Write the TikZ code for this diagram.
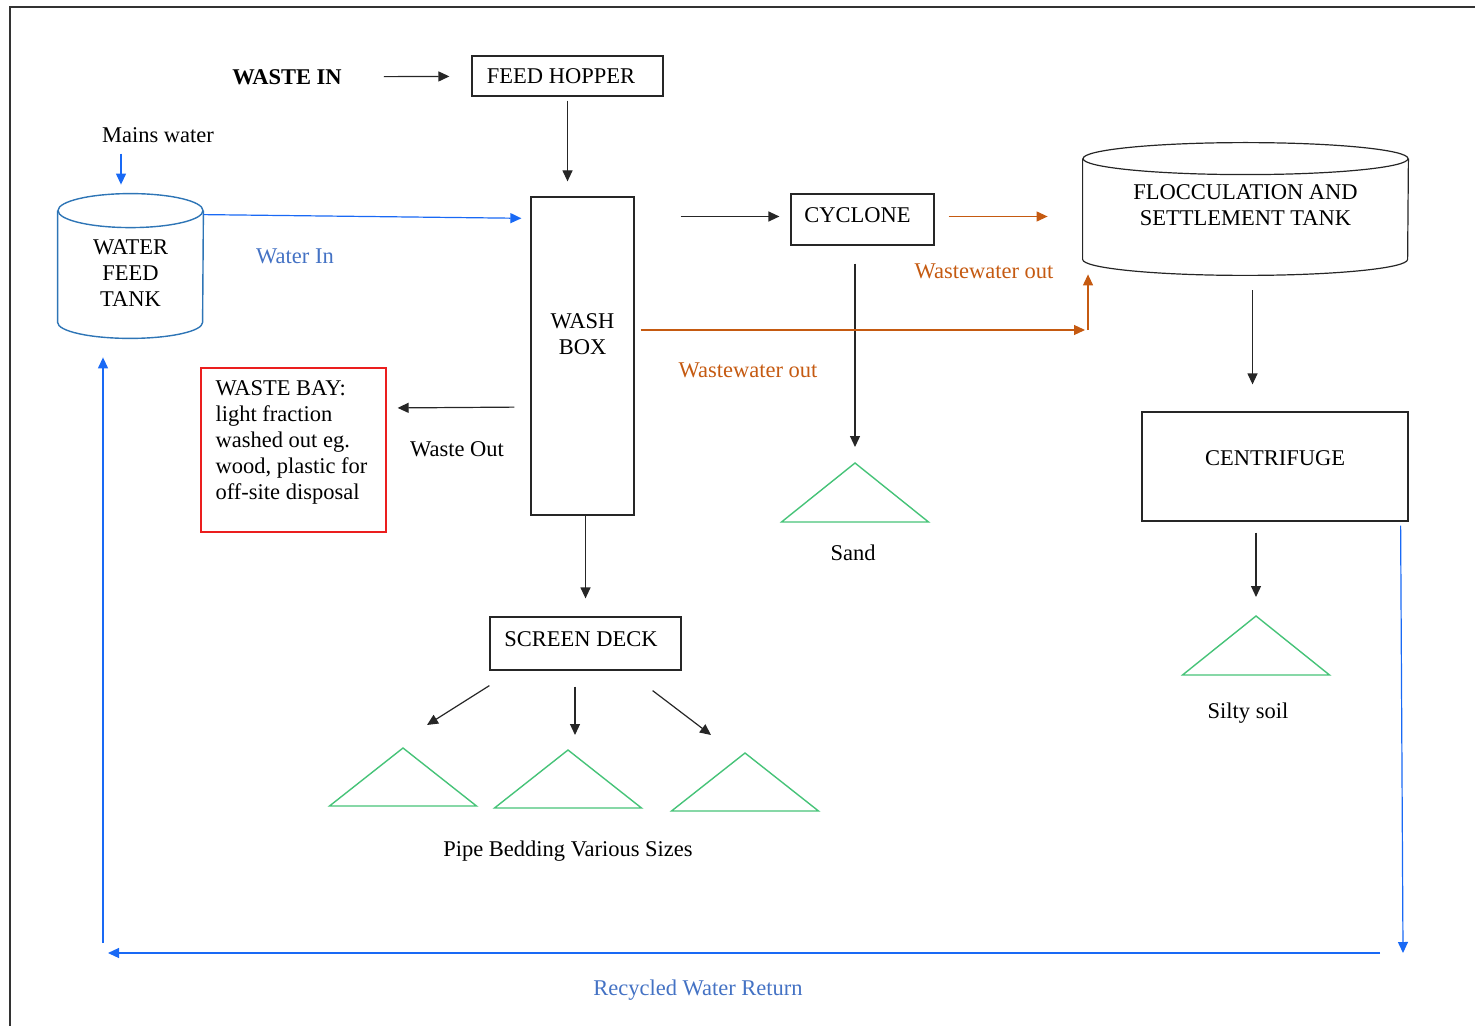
\documentclass[tikz,border=0pt]{standalone}
\usepackage{fontspec}
\setmainfont{Liberation Serif}
\usetikzlibrary{arrows.meta,positioning,calc}
\definecolor{tankblue}{RGB}{46,117,182}
\definecolor{flowblue}{RGB}{25,105,245}
\definecolor{labelblue}{RGB}{68,114,196}
\definecolor{wasteorange}{RGB}{197,90,17}
\definecolor{heapgreen}{RGB}{70,195,120}
\definecolor{bayred}{RGB}{235,30,30}

\begin{document}
\begin{tikzpicture}[x=0.5pt,y=-0.5pt,
        font=\fontsize{11.25}{13}\selectfont,
        box/.style={rectangle, draw=black!85, line width=0.6pt, inner sep=0pt, align=center},
        body/.style={rectangle, inner sep=0pt, align=center},
        arr/.style={-{Triangle[length=5.5pt,width=5pt]}, line width=0.6pt, color=black!85},
        warr/.style={-{Triangle[length=5.5pt,width=5pt]}, line width=0.6pt, color=wasteorange},
        rarr/.style={-{Triangle[length=5.5pt,width=5pt]}, line width=0.6pt, color=flowblue},
        heap/.style={draw=heapgreen, line width=0.7pt},
        tank/.style={draw=tankblue, line width=0.7pt}]

    \useasboundingbox (0,0) rectangle (1475,1026);
    \draw [line width=0.8pt, black!80] (10,1026) -- (10,7) -- (1475,7);

    % process boxes
    \node [font=\bfseries\fontsize{11.25}{13}\selectfont] (wastein) at (287,77) {WASTE IN};
    \node [box, minimum width=95.5pt, minimum height=20pt,
        label={[xshift=-3.25pt]center:FEED HOPPER}] (hopper) at (567.5,76) {};
    \node [box, minimum width=51.5pt, minimum height=159pt,
        label={[align=center,yshift=11pt]center:{WASH\\BOX}}] (wash) at (582.5,356) {};
    \node [box, minimum width=71.5pt, minimum height=25.5pt,
        label={[xshift=-2.5pt,yshift=2pt]center:CYCLONE}] (cyclone) at (862.5,219.5) {};
    \node [box, minimum width=95.5pt, minimum height=26.5pt,
        label={[xshift=-2.25pt,yshift=2pt]center:SCREEN DECK}] (screen) at (585.5,643.5) {};
    \node [box, minimum width=133pt, minimum height=54.5pt,
        label={[yshift=4pt]center:CENTRIFUGE}] (cent) at (1275,466.5) {};
    \node [box, draw=bayred, minimum width=92.5pt, minimum height=82pt,
        label={[align=left,xshift=-1pt,yshift=4pt]center:{WASTE BAY:\\light fraction\\washed out eg.\\wood, plastic for\\off-site disposal}}] (bay) at (293.5,450) {};

    % tanks
    \node [body, minimum width=72.5pt, minimum height=55.5pt,
        label={[align=center,yshift=-3.5pt]center:{WATER\\FEED\\TANK}}] (tank) at (130.5,266.5) {};
    \draw [tank] (tank.north) ellipse [x radius=36.25pt, y radius=8.5pt];
    \draw [tank] (tank.north west) -- (tank.south west)
        arc [start angle=180, end angle=360, x radius=36.25pt, y radius=8pt] -- (tank.north east);

    \node [body, minimum width=162.5pt, minimum height=50pt,
        label={[align=center,yshift=2pt]center:{FLOCCULATION AND\\SETTLEMENT TANK}}] (floc) at (1245.5,209) {};
    \draw [black!85, line width=0.6pt] (floc.north) ellipse [x radius=81.25pt, y radius=8pt];
    \draw [black!85, line width=0.6pt] (floc.north west) -- (floc.south west)
        arc [start angle=180, end angle=360, x radius=81.25pt, y radius=8pt] -- (floc.north east);

    % stockpiles
    \coordinate (sandpile) at (855,463);
    \coordinate (siltpile) at (1256,616);
    \coordinate (pile1) at (403,748);
    \coordinate (pile2) at (568,750);
    \coordinate (pile3) at (745,753);
    \draw [heap] (sandpile) -- ++(-73.5,59) -- ++(147,0) -- cycle;
    \draw [heap] (siltpile) -- ++(-73.5,59) -- ++(147,0) -- cycle;
    \draw [heap] (pile1) -- ++(-73.5,58) -- ++(147,0) -- cycle;
    \draw [heap] (pile2) -- ++(-73.5,58) -- ++(147,0) -- cycle;
    \draw [heap] (pile3) -- ++(-73.5,58) -- ++(147,0) -- cycle;

    % texts
    \node (mains) at (158,135) {Mains water};
    \node [text=labelblue] (watertxt) at (295,256) {Water In};
    \node (wasteout) at (457,449) {Waste Out};
    \node [text=wasteorange] (wwout1) at (984,271) {Wastewater out};
    \node [text=wasteorange] (wwout2) at (748,370) {Wastewater out};
    \node (sandtxt) at (853,553) {Sand};
    \node (silttxt) at (1248,713) {Silty soil};
    \node (pipetxt) at (568,851) {Pipe Bedding Various Sizes};
    \node [text=labelblue] (returntxt) at (698,990) {Recycled Water Return};

    % black flow
    \draw [arr, shorten <=17.5pt, shorten >=11pt] (wastein) -- (hopper);
    \draw [arr, shorten <=2pt, shorten >=7.5pt] (hopper.south) -- (hopper.south |- wash.north);
    \draw [arr, shorten <=23pt, shorten >=5.5pt] ([yshift=1.5pt]wash.east |- cyclone.west) -- ([yshift=1.5pt]cyclone.west);
    \draw [arr, shorten <=8pt, shorten >=5.5pt] ([yshift=-25.5pt]wash.west) -- ([yshift=21pt]bay.east);
    \draw [arr, shorten >=9pt] (screen.north |- wash.south) -- (screen.north);
    \draw [arr, shorten <=9pt, shorten >=8pt] (sandpile |- cyclone.south) -- (sandpile);
    \draw [arr, shorten <=15.5pt, shorten >=13.5pt] ([xshift=3.5pt]floc.south) -- ([xshift=3.5pt]floc.south |- cent.north);
    \draw [arr, shorten <=5.5pt, shorten >=9.5pt] (siltpile |- cent.south) -- (siltpile);
    \draw [arr] ([yshift=-7.5pt]screen.south west) -- ($(pile1)+(24,-23)$);
    \draw [arr] ([xshift=-5.25pt,yshift=-8pt]screen.south) -- ($(pile2)+(7,-15)$);
    \draw [arr] ([xshift=-14.5pt,yshift=-10pt]screen.south east) -- ($(pile3)+(-34,-18)$);

    % wastewater
    \coordinate (wwjoin) at (1088,330);
    \draw [warr, shorten <=7pt, shorten >=17.5pt] ([yshift=1.5pt]cyclone.east) -- ([yshift=1.5pt]cyclone.east -| floc.west);
    \draw [warr, shorten <=3pt, shorten >=1.5pt] (wash.east |- wwjoin) -- (wwjoin);
    \draw [warr, shorten >=7.5pt] (wwjoin) -- (wwjoin |- floc.south);

    % water
    \draw [rarr, shorten <=2pt, shorten >=13pt] ([xshift=-18.5pt]mains.south) -- ([xshift=-18.5pt]mains.south |- tank.north);
    \draw [rarr, shorten >=4.5pt] ([yshift=-2pt]tank.north east) -- ([yshift=-11pt]wash.north west);
    \coordinate (retR) at (1403,953);
    \coordinate (retL) at (103,953);
    \draw [rarr] ([xshift=-4pt,yshift=-2pt]cent.south east) -- (retR);
    \draw [rarr, shorten <=11.5pt, shorten >=2.5pt] (retR) -- (retL);
    \draw [rarr, shorten <=5pt, shorten >=17.5pt] (retL) -- (retL |- tank.south);

\end{tikzpicture}
\end{document}
